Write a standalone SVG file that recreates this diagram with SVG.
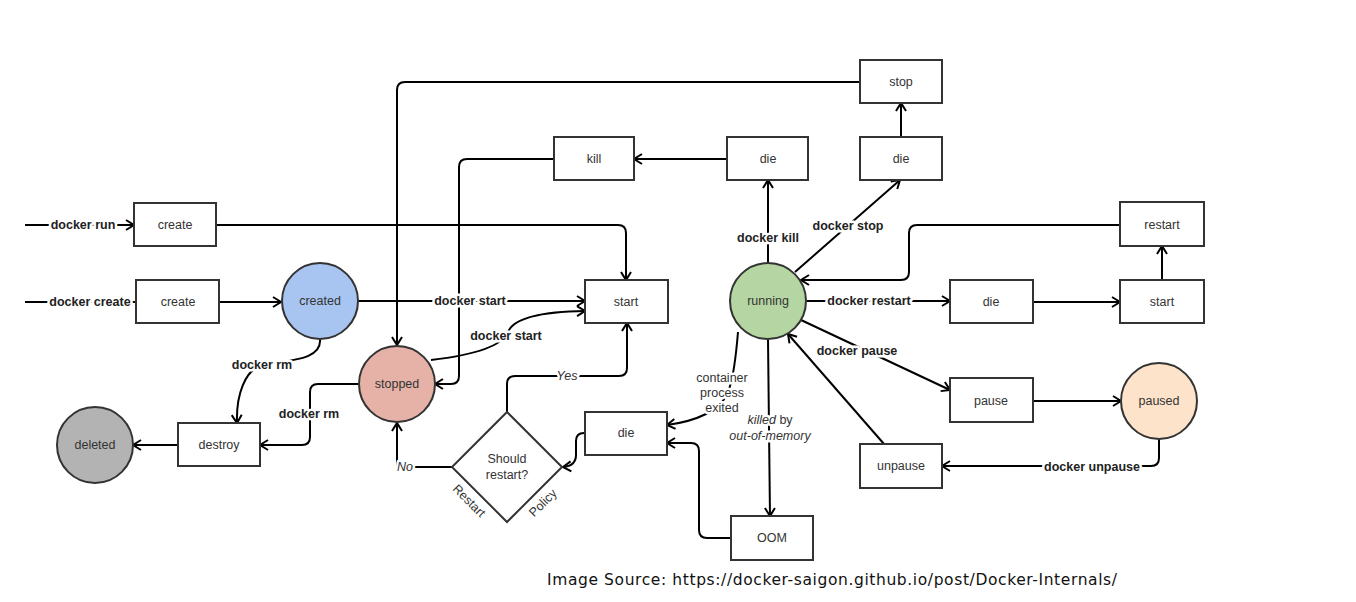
<svg xmlns="http://www.w3.org/2000/svg" width="1356" height="602" viewBox="0 0 1356 602">
<defs>
<marker id="arr" markerUnits="userSpaceOnUse" markerWidth="14" markerHeight="14" refX="10" refY="7" orient="auto">
<path d="M2,2 L10,7 L2,12" fill="none" stroke="#000" stroke-width="2"/>
</marker>
</defs>
<style>
.box{fill:#fff;stroke:#333;stroke-width:2}
.circ{stroke:#333;stroke-width:2}
.nt{font-family:"Liberation Sans",Arial,sans-serif;font-size:12.5px;fill:#333;text-anchor:middle;dominant-baseline:central}
.e{fill:none;stroke:#000;stroke-width:2}
.a{marker-end:url(#arr)}
.lb{font-family:"Liberation Sans",Arial,sans-serif;font-size:12.5px;font-weight:bold;fill:#222;text-anchor:middle;dominant-baseline:central;stroke:#fff;stroke-width:5;paint-order:stroke;stroke-linejoin:round}
.li{font-family:"Liberation Sans",Arial,sans-serif;font-size:12.5px;fill:#333;text-anchor:middle;dominant-baseline:central;stroke:#fff;stroke-width:5;paint-order:stroke;stroke-linejoin:round}
.it{font-style:italic}
.ft{font-family:"DejaVu Sans",Verdana,sans-serif;font-size:15.5px;fill:#111}
</style>
<rect width="1356" height="602" fill="#fff"/>
<g id="connectors">
<path class="e a" d="M25,225 L134,225"/>
<path class="e" d="M25,302 L136,302"/>
<path class="e a" d="M216,225 L618,225 Q626,225 626,233 L626,280"/>
<path class="e a" d="M219,302 L281,302"/>
<path class="e a" d="M358,301 L585,301"/>
<path class="e a" d="M431,360 Q500,352 508,332 Q516,312 585,311"/>
<path class="e a" d="M860,82 L405,82 Q397,82 397,90 L397,345"/>
<path class="e a" d="M554,159 L467,159 Q459,159 459,167 L459,376 Q459,384 451,384 L435,384"/>
<path class="e a" d="M727,159 L634,159"/>
<path class="e a" d="M768,263 L768,180"/>
<path class="e a" d="M795,272 L900,180"/>
<path class="e a" d="M901,137 L901,103"/>
<path class="e a" d="M1120,225 L917,225 Q909,225 909,233 L909,272 Q909,280 901,280 L801,280"/>
<path class="e a" d="M807,301 L950,301"/>
<path class="e a" d="M1033,302 L1120,302"/>
<path class="e a" d="M1162,280 L1162,246"/>
<path class="e a" d="M801,320 L950,390"/>
<path class="e a" d="M1033,401 L1121,401"/>
<path class="e a" d="M1159,439 L1159,458 Q1159,466 1151,466 L942,466"/>
<path class="e a" d="M884,444 L788,334"/>
<path class="e a" d="M738,332 C734,380 730,405 706,414 Q690,422 667,425"/>
<path class="e a" d="M768,339 L770,516"/>
<path class="e a" d="M731,538 L707,538 Q699,538 699,530 L699,451 Q699,443 691,443 L667,443"/>
<path class="e a" d="M585,433 L584,433 Q576,433 576,441 L576,455 Q576,466 563,467"/>
<path class="e a" d="M507,412 L507,384 Q507,376 515,376 L619,376 Q627,376 627,368 L627,323"/>
<path class="e a" d="M452,467 L397,467 L397,423"/>
<path class="e a" d="M320,339 C322,360 290,360 262,365 C245,370 236,395 237,423"/>
<path class="e a" d="M358,384 L318,384 Q310,384 310,392 L310,437 Q310,445 302,445 L260,445"/>
<path class="e a" d="M178,445 L133,445"/>
<text class="lb" x="83" y="225">docker run</text>
<text class="lb" x="90" y="302">docker create</text>
<text class="lb" x="470" y="301">docker start</text>
<text class="lb" x="506" y="336">docker start</text>
<text class="lb" x="768" y="238">docker kill</text>
<text class="lb" x="848" y="226">docker stop</text>
<text class="lb" x="869" y="301">docker restart</text>
<text class="lb" x="857" y="351">docker pause</text>
<text class="lb" x="1092" y="467">docker unpause</text>
<text class="lb" x="262" y="365">docker rm</text>
<text class="lb" x="309" y="414">docker rm</text>
<text class="li" x="722" y="378">container</text>
<text class="li" x="722" y="393">process</text>
<text class="li" x="722" y="408">exited</text>
<text class="li" x="770" y="420"><tspan class="it">killed</tspan> by</text>
<text class="li it" x="770" y="436">out-of-memory</text>
<text class="li it" x="567" y="376">Yes</text>
<text class="li it" x="405" y="467">No</text>
</g>
<g id="create1"><rect class="box" x="134" y="203" width="82" height="43"/><text class="nt" x="175" y="225">create</text></g>
<g id="create2"><rect class="box" x="136" y="280" width="83" height="43"/><text class="nt" x="178" y="302">create</text></g>
<g id="created"><circle class="circ" cx="320" cy="301" r="38" fill="#a7c5f0"/><text class="nt" x="320" y="301">created</text></g>
<g id="stopped"><circle class="circ" cx="397" cy="384" r="38" fill="#e6b2a8"/><text class="nt" x="397" y="384">stopped</text></g>
<g id="deleted"><circle class="circ" cx="95" cy="445" r="38" fill="#b3b3b3"/><text class="nt" x="95" y="445">deleted</text></g>
<g id="destroy"><rect class="box" x="178" y="423" width="82" height="43"/><text class="nt" x="219" y="445">destroy</text></g>
<g id="start"><rect class="box" x="585" y="280" width="83" height="43"/><text class="nt" x="626" y="302">start</text></g>
<g id="running"><circle class="circ" cx="768" cy="301" r="38" fill="#b5d6a2"/><text class="nt" x="768" y="301">running</text></g>
<g id="kill"><rect class="box" x="554" y="137" width="80" height="43"/><text class="nt" x="594" y="159">kill</text></g>
<g id="die-kill"><rect class="box" x="727" y="137" width="81" height="43"/><text class="nt" x="768" y="159">die</text></g>
<g id="die-stop"><rect class="box" x="860" y="137" width="82" height="43"/><text class="nt" x="901" y="159">die</text></g>
<g id="stop"><rect class="box" x="860" y="60" width="82" height="43"/><text class="nt" x="901" y="82">stop</text></g>
<g id="restart"><rect class="box" x="1120" y="202" width="84" height="44"/><text class="nt" x="1162" y="225">restart</text></g>
<g id="die-restart"><rect class="box" x="950" y="280" width="83" height="43"/><text class="nt" x="991" y="302">die</text></g>
<g id="start-restart"><rect class="box" x="1120" y="280" width="84" height="43"/><text class="nt" x="1162" y="302">start</text></g>
<g id="pause"><rect class="box" x="950" y="378" width="83" height="44"/><text class="nt" x="991" y="401">pause</text></g>
<g id="paused"><circle class="circ" cx="1159" cy="401" r="38" fill="#fde3c9"/><text class="nt" x="1159" y="401">paused</text></g>
<g id="unpause"><rect class="box" x="860" y="444" width="82" height="44"/><text class="nt" x="901" y="466">unpause</text></g>
<g id="die-exit"><rect class="box" x="585" y="412" width="82" height="43"/><text class="nt" x="626" y="433">die</text></g>
<g id="oom"><rect class="box" x="731" y="516" width="82" height="44"/><text class="nt" x="772" y="538">OOM</text></g>
<g id="should-restart">
<path class="box" d="M507,412 L562,467 L507,522 L452,467 Z"/>
<text class="nt" x="507" y="459">Should</text>
<text class="nt" x="507" y="475">restart?</text>
<text class="nt" transform="translate(469,501) rotate(45)">Restart</text>
<text class="nt" transform="translate(543,503) rotate(-45)">Policy</text>
</g>
<text class="ft" x="547" y="585" textLength="570" lengthAdjust="spacing">Image Source: https://docker-saigon.github.io/post/Docker-Internals/</text>
</svg>
